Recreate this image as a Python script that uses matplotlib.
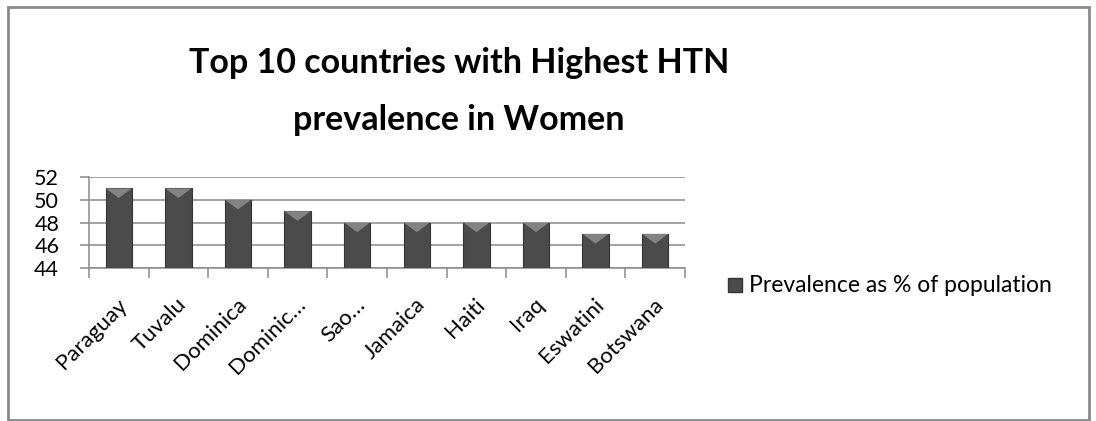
import matplotlib
matplotlib.use("Agg")
import matplotlib.pyplot as plt
from matplotlib.patches import Rectangle, Polygon
from matplotlib.transforms import ScaledTranslation

countries = ["Paraguay", "Tuvalu", "Dominica", "Dominic…", "Sao…",
             "Jamaica", "Haiti", "Iraq", "Eswatini", "Botswana"]
prevalence = [51, 51, 50, 49, 48, 48, 48, 48, 47, 47]
y_ticks = [44, 46, 48, 50, 52]
series_name = "Prevalence as % of population"
title_lines = ["Top 10 countries with Highest HTN", "prevalence in Women"]

plt.rcParams["font.family"] = ["Lato", "DejaVu Sans"]

W, H = 1096, 421
fig = plt.figure(figsize=(W / 100, H / 100), dpi=100)

# outer chart frame
fig.patches.append(Rectangle((8 / W, 1 - 420 / H), 1081 / W, 413 / H,
                             transform=fig.transFigure, fill=False,
                             edgecolor="#8a8a8a", linewidth=2.0))

ax = fig.add_axes([89 / W, 1 - 268 / H, 596 / W, 91 / H])
x = list(range(len(countries)))
bw = 0.44
ax.bar(x, [v - 44 for v in prevalence], bottom=44, width=bw,
       color="#4b4b4b", edgecolor="#353535", linewidth=0.8, zorder=3)
# bevel highlight at bar tops
for xi, v in zip(x, prevalence):
    ax.add_patch(Polygon([(xi - bw / 2, v), (xi + bw / 2, v), (xi, v - 0.85)],
                         closed=True, facecolor="#8e8e8e", edgecolor="none",
                         alpha=0.85, zorder=4))

ax.set_xlim(-0.5, len(countries) - 0.5)
ax.set_ylim(44, 52)
ax.set_yticks(y_ticks)
ax.set_yticklabels([str(t) for t in y_ticks], fontsize=15.5)
ax.yaxis.grid(True, color="#8a8a8a", linewidth=1.1, zorder=0)
ax.tick_params(axis="y", length=6.5, width=1.1, color="#8a8a8a", pad=15)
ax.set_xticks([i + 0.5 for i in range(-1, len(countries))], minor=True)
ax.tick_params(axis="x", which="minor", length=7, color="#8a8a8a", width=1.1)
ax.set_xticks(x)
ax.set_xticklabels(countries, rotation=45, ha="right", va="top",
                   rotation_mode="anchor", fontsize=16)
ax.tick_params(axis="x", which="major", length=0, pad=19)
shift = ScaledTranslation(-2 / 100, 0, fig.dpi_scale_trans)
for lab in ax.get_xticklabels():
    lab.set_transform(lab.get_transform() + shift)
for s in ["top", "right"]:
    ax.spines[s].set_visible(False)
for s in ["bottom", "left"]:
    ax.spines[s].set_color("#8a8a8a")
    ax.spines[s].set_linewidth(1.1)

fig.text(459 / W, 1 - 73 / H, title_lines[0], ha="center", va="baseline",
         fontsize=24.5, fontweight="bold")
fig.text(459 / W, 1 - 130 / H, title_lines[1], ha="center", va="baseline",
         fontsize=24.5, fontweight="bold")

# legend
fig.patches.append(Rectangle((728 / W, 1 - 292 / H), 14 / W, 14 / H,
                             transform=fig.transFigure, facecolor="#4b4b4b",
                             edgecolor="#353535"))
fig.text(749 / W, 1 - 285 / H, series_name, ha="left", va="center",
         fontsize=16.5)

fig.savefig("out.png", dpi=100)
